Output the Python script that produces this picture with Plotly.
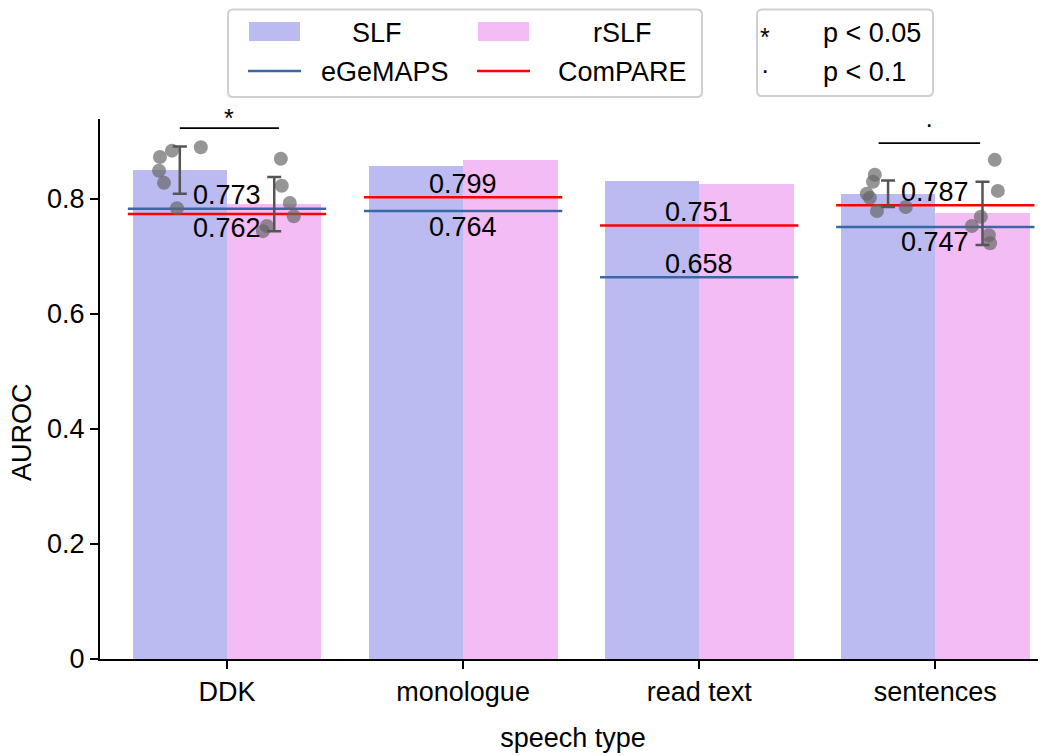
import plotly.graph_objects as go

# ---------------- data ----------------
categories = ["DDK", "monologue", "read text", "sentences"]
cat_pos = [0, 1, 2, 3]
slf_auc = [0.850, 0.857, 0.831, 0.809]
rslf_auc = [0.791, 0.868, 0.826, 0.775]

egemaps_line = [0.783, 0.779, 0.664, 0.751]
compare_line = [0.774, 0.803, 0.754, 0.789]
egemaps_text = ["0.773", "0.764", "0.658", "0.747"]
compare_text = ["0.762", "0.799", "0.751", "0.787"]
egemaps_text_y = [0.807, 0.751, 0.687, 0.725]
compare_text_y = [0.750, 0.826, 0.777, 0.812]

# per-fold results (only DDK and sentences)
fold_cats = [0, 3]
slf_fold_dx = [[-0.284, -0.233, -0.288, -0.267, -0.212, -0.111],
               [-0.256, -0.264, -0.290, -0.277, -0.247, -0.125]]
slf_fold_y = [[0.873, 0.884, 0.849, 0.828, 0.784, 0.890],
              [0.842, 0.830, 0.809, 0.802, 0.779, 0.786]]
rslf_fold_dx = [[0.228, 0.232, 0.266, 0.283, 0.169, 0.152],
                [0.252, 0.265, 0.193, 0.155, 0.227, 0.232]]
rslf_fold_y = [[0.870, 0.823, 0.793, 0.770, 0.753, 0.744],
               [0.868, 0.814, 0.769, 0.753, 0.737, 0.723]]
slf_err = [0.041, 0.023]
rslf_err = [0.047, 0.055]

sig_marks = ["*", "·"]
sig_line_y = [0.923, 0.897]
sig_mark_y = [0.941, 0.930]
sig_x0 = [-0.20, -0.24]
sig_x1 = [0.22, 0.19]

yticks = [0, 0.2, 0.4, 0.6, 0.8]
yticktext = ["0", "0.2", "0.4", "0.6", "0.8"]

legend_main = ["SLF", "rSLF", "eGeMAPS", "ComPARE"]
legend_sig = ["p < 0.05", "p < 0.1"]

# ---------------- styles ----------------
C_SLF = "rgb(187,187,242)"
C_RSLF = "rgb(244,188,244)"
C_EGE = "#3a68a6"
C_COMP = "#ff0000"
FONT = "Liberation Sans, Arial, sans-serif"
FS = 27

W, H = 1046, 756
# the html body adds an 8px offset; plot area on screen spans x 100..1046, y 119..659
ML, MR, MT, MB = 92, 8, 111, 105
BW = 0.4
HALF_LINE = 0.42
XR = [-0.538, 3.469]
YR = [0, 0.939]

fig = go.Figure()

fig.add_trace(go.Bar(x=cat_pos, y=slf_auc, width=BW, offset=-BW,
                     marker=dict(color=C_SLF, line=dict(width=0)), showlegend=False))
fig.add_trace(go.Bar(x=cat_pos, y=rslf_auc, width=BW, offset=0,
                     marker=dict(color=C_RSLF, line=dict(width=0)), showlegend=False))

for vals, col in ((egemaps_line, C_EGE), (compare_line, C_COMP)):
    xs, ys = [], []
    for c, v in zip(cat_pos, vals):
        xs += [c - HALF_LINE, c + HALF_LINE, None]
        ys += [v, v, None]
    fig.add_trace(go.Scatter(x=xs, y=ys, mode="lines", line=dict(color=col, width=2.5),
                             showlegend=False, hoverinfo="skip"))

# fold points
for i, c in enumerate(fold_cats):
    for dx, ys in ((slf_fold_dx[i], slf_fold_y[i]), (rslf_fold_dx[i], rslf_fold_y[i])):
        fig.add_trace(go.Scatter(x=[c + d for d in dx], y=ys, mode="markers",
                                 marker=dict(color="rgb(100,100,100)", opacity=0.68, size=14,
                                             line=dict(width=0)),
                                 showlegend=False))
# error bars
for i, c in enumerate(fold_cats):
    for off, h, e in ((-BW / 2, slf_auc[c], slf_err[i]), (BW / 2, rslf_auc[c], rslf_err[i])):
        fig.add_trace(go.Scatter(x=[c + off], y=[h], mode="markers",
                                 marker=dict(size=1, color="rgba(0,0,0,0)"),
                                 error_y=dict(type="data", array=[e], color="#555555",
                                              thickness=2.5, width=7),
                                 showlegend=False))
# significance lines and marks
for i, c in enumerate(fold_cats):
    fig.add_trace(go.Scatter(x=[c + sig_x0[i], c + sig_x1[i]], y=[sig_line_y[i]] * 2,
                             mode="lines", line=dict(color="black", width=1.8),
                             showlegend=False, cliponaxis=False))
    fig.add_annotation(x=c + (sig_x0[i] + sig_x1[i]) / 2, xref="x",
                       y=(sig_mark_y[i] - YR[0]) / (YR[1] - YR[0]), yref="paper",
                       xanchor="center", yanchor="middle",
                       text=sig_marks[i], showarrow=False,
                       font=dict(size=FS - 2, color="black", family=FONT))

# value labels
for c, t, ty in zip(cat_pos, egemaps_text, egemaps_text_y):
    fig.add_annotation(x=c, y=ty, text=t, showarrow=False, xref="x", yref="y",
                       font=dict(size=FS, color="black", family=FONT))
for c, t, ty in zip(cat_pos, compare_text, compare_text_y):
    fig.add_annotation(x=c, y=ty, text=t, showarrow=False, xref="x", yref="y",
                       font=dict(size=FS, color="black", family=FONT))

# ---------------- legends (drawn in paper space, screen pixel positions) ----------------
PW, PH = W - ML - MR, H - MT - MB
def px(x):
    return (x - 100) / PW
def py(y):
    return (659 - y) / PH

def rounded_box(x0, y0, x1, y1, r=5):
    X0, X1 = px(x0), px(x1)
    Y0, Y1 = py(y0), py(y1)  # Y0 top, Y1 bottom
    rx, ry = r / PW, r / PH
    return (f"M {X0+rx},{Y0} L {X1-rx},{Y0} Q {X1},{Y0} {X1},{Y0-ry} "
            f"L {X1},{Y1+ry} Q {X1},{Y1} {X1-rx},{Y1} L {X0+rx},{Y1} "
            f"Q {X0},{Y1} {X0},{Y1+ry} L {X0},{Y0-ry} Q {X0},{Y0} {X0+rx},{Y0} Z")

fig.add_shape(type="path", path=rounded_box(228, 9.5, 702, 97), xref="paper", yref="paper",
              line=dict(color="#d0d0d0", width=2), fillcolor="white", layer="above")
fig.add_shape(type="path", path=rounded_box(757, 9.5, 933, 96), xref="paper", yref="paper",
              line=dict(color="#d0d0d0", width=2), fillcolor="white", layer="above")

for (x0, x1), col in (((249, 300), C_SLF), ((478, 529), C_RSLF)):
    fig.add_shape(type="rect", x0=px(x0), x1=px(x1), y0=py(41), y1=py(22),
                  xref="paper", yref="paper", fillcolor=col, line=dict(width=0), layer="above")
for (x0, x1), col in (((248, 301), C_EGE), ((477, 530), C_COMP)):
    fig.add_shape(type="line", x0=px(x0), x1=px(x1), y0=py(71), y1=py(71),
                  xref="paper", yref="paper", line=dict(color=col, width=2.5), layer="above")

for txt, cx, cy in zip(legend_main, (377, 622, 385, 622), (33, 33, 72, 72)):
    fig.add_annotation(x=px(cx), y=py(cy), text=txt, showarrow=False, xref="paper", yref="paper",
                       xanchor="center", yanchor="middle",
                       font=dict(size=FS, color="black", family=FONT))
for mark, txt, cy, dy in zip(sig_marks, legend_sig, (33, 72), (4, -2)):
    fig.add_annotation(x=px(765), y=py(cy + dy), text=mark, showarrow=False, xref="paper",
                       yref="paper", xanchor="center", yanchor="middle",
                       font=dict(size=FS - 2, color="black", family=FONT))
    fig.add_annotation(x=px(821), y=py(cy), text=txt, showarrow=False, xref="paper",
                       yref="paper", xanchor="left", yanchor="middle",
                       font=dict(size=FS, color="black", family=FONT))

# y axis title (placed like the reference, slightly below the axis centre)
fig.add_annotation(x=px(22), y=py(432), text="AUROC", textangle=-90, showarrow=False,
                   xref="paper", yref="paper", xanchor="center", yanchor="middle",
                   font=dict(size=FS, color="black", family=FONT))

fig.update_layout(
    width=W, height=H,
    margin=dict(l=ML, r=MR, t=MT, b=MB, pad=0),
    plot_bgcolor="white", paper_bgcolor="white",
    barmode="overlay", bargap=0,
    font=dict(family=FONT, size=FS, color="black"),
    showlegend=False,
    xaxis=dict(range=XR, tickvals=cat_pos, ticktext=categories,
               showgrid=False, zeroline=False, showline=True, linecolor="black", linewidth=2,
               ticks="outside", ticklen=8, tickwidth=1.5, tickcolor="black",
               title=dict(text="speech type", standoff=22, font=dict(size=FS)),
               tickfont=dict(size=FS)),
    yaxis=dict(range=YR, tickvals=yticks, ticktext=yticktext,
               showgrid=False, zeroline=False, showline=True, linecolor="black", linewidth=2,
               ticks="outside", ticklen=8, tickwidth=1.5, tickcolor="black",
               tickfont=dict(size=FS)),
)

fig.write_html("out.html")
